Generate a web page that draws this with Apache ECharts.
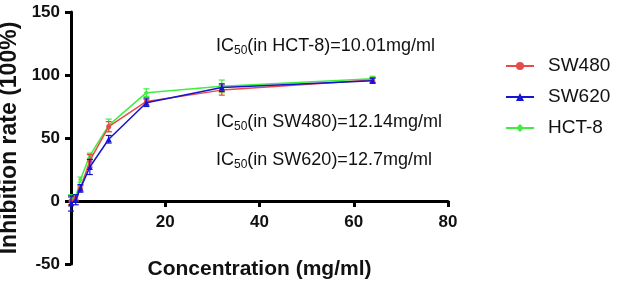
<!DOCTYPE html>
<html><head><meta charset="utf-8">
<script src="https://cdn.jsdelivr.net/npm/echarts@6/dist/echarts.min.js"></script>
<style>html,body{margin:0;padding:0;background:#fff}#c{width:618px;height:283px}</style>
</head><body><div id="c"></div>
<script>
const conc = [0, 1, 2, 4, 8, 16, 32, 64];
const sw480 = [0, 2, 10, 32, 59, 79, 88, 96];
const sw480Err = [3, 2, 2, 5, 4, 3, 4, 2];
const sw620 = [-2, 1, 10, 27, 49, 78, 90, 95.5];
const sw620Err = [6, 4, 3, 6, 3, 3, 3, 2];
const hct8 = [1, 3, 17, 36, 60, 86, 91, 97];
const hct8Err = [4, 2, 2, 2, 5, 3, 5, 2];
const names = ['SW480', 'SW620', 'HCT-8'];
const colors = ['#e84a4a', '#1414d2', '#40ee40'];
const symbols = ['circle', 'triangle', 'diamond'];
const yTicks = [-50, 0, 50, 100, 150];
const xTicks = [0, 20, 40, 60, 80];
const annotations = [
  ['(in HCT-8)=10.01mg/ml', 216, 46],
  ['(in SW480)=12.14mg/ml', 216, 122],
  ['(in SW620)=12.7mg/ml', 216, 160]
];

const chart = echarts.init(document.getElementById('c'));
const vals = [sw480, sw620, hct8];
const errs = [sw480Err, sw620Err, hct8Err];
const series = [];
const zs = [3, 4, 2];
vals.forEach((v, i) => {
  series.push({
    name: names[i], type: 'line', z: zs[i],
    data: conc.map((x, j) => [x, v[j]]),
    symbol: symbols[i], symbolSize: i === 1 ? 6 : 5,
    lineStyle: {color: colors[i], width: 1.5},
    itemStyle: {color: colors[i]}
  });
  series.push({
    type: 'custom', z: zs[i],
    data: conc.map((x, j) => [x, v[j] - errs[i][j], v[j] + errs[i][j]]),
    renderItem: function (params, api) {
      const lo = api.coord([api.value(0), api.value(1)]);
      const hi = api.coord([api.value(0), api.value(2)]);
      const w = 3;
      const st = {stroke: colors[i], lineWidth: 1.2};
      return {type: 'group', children: [
        {type: 'line', shape: {x1: lo[0], y1: lo[1], x2: hi[0], y2: hi[1]}, style: st},
        {type: 'line', shape: {x1: lo[0]-w, y1: lo[1], x2: lo[0]+w, y2: lo[1]}, style: st},
        {type: 'line', shape: {x1: hi[0]-w, y1: hi[1], x2: hi[0]+w, y2: hi[1]}, style: st}
      ]};
    }
  });
});

const FF = 'Liberation Sans, Arial, sans-serif';
const axisFont = {fontFamily: FF, fontWeight: 'bold', fontSize: 17, color: '#111'};
const rich = {
  a: {fontSize: 18, fontFamily: FF, fill: '#111', color: '#111'},
  s: {fontSize: 12, fontFamily: FF, fill: '#111', color: '#111', padding: [9, 0, 0, 0]}
};
chart.setOption({
  animation: false,
  grid: {left: 71, right: 170, top: 12, bottom: 19, outerBoundsMode: 'none', containLabel: false},
  legend: {
    data: names, orient: 'vertical', left: 500, top: 51, itemGap: 11,
    itemWidth: 28, itemHeight: 10,
    textStyle: {fontFamily: FF, fontSize: 19, color: '#111', lineHeight: 20, padding: [0, 0, 0, 9]}
  },
  xAxis: {
    type: 'value', min: xTicks[0], max: xTicks[xTicks.length - 1], interval: 20,
    offset: -63,
    axisLine: {onZero: false, lineStyle: {color: '#000', width: 3}},
    axisTick: {show: true, length: 6, lineStyle: {width: 3, color: '#000'}},
    axisLabel: Object.assign({margin: 13, showMinLabel: false}, axisFont),
    splitLine: {show: false},
    name: 'Concentration (mg/ml)', nameLocation: 'middle', nameGap: 58,
    nameTextStyle: Object.assign({}, axisFont, {fontSize: 21})
  },
  yAxis: {
    type: 'value', min: yTicks[0], max: yTicks[yTicks.length - 1], interval: 50,
    axisLine: {show: true, lineStyle: {color: '#000', width: 3}},
    axisTick: {show: true, length: 6, lineStyle: {width: 3, color: '#000'}},
    axisLabel: Object.assign({margin: 11}, axisFont),
    splitLine: {show: false},
    name: 'Inhibition rate (100%)', nameLocation: 'middle', nameGap: 48,
    nameTextStyle: Object.assign({}, axisFont, {fontSize: 23})
  },
  graphic: annotations.map(a => ({
    type: 'text', x: a[1], y: a[2],
    style: {text: '{a|IC}{s|50}{a|' + a[0] + '}', rich: rich, verticalAlign: 'middle', textVerticalAlign: 'middle'}
  })),
  series: series
});
</script></body></html>
